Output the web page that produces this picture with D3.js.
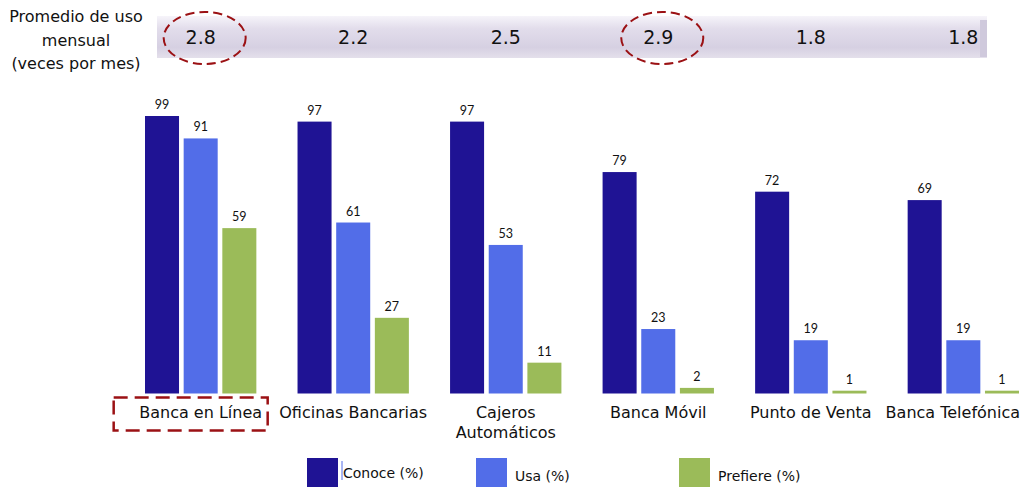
<!DOCTYPE html>
<html>
<head>
<meta charset="utf-8">
<script src="https://cdn.jsdelivr.net/npm/d3@7"></script>
<style>
  body { margin: 0; background: #fff; }
  text { font-family: "DejaVu Sans", Verdana, sans-serif; }
</style>
</head>
<body>
<svg width="1021" height="487"></svg>
<script>
// Data
const canales = ["Banca en Línea", "Oficinas Bancarias", "Cajeros\nAutomáticos", "Banca Móvil", "Punto de Venta", "Banca Telefónica"];
const series = ["Conoce (%)", "Usa (%)", "Prefiere (%)"];
const conoce = [99, 97, 97, 79, 72, 69];
const usa = [91, 61, 53, 23, 19, 19];
const prefiere = [59, 27, 11, 2, 1, 1];
const promedio = ["2.8", "2.2", "2.5", "2.9", "1.8", "1.8"];
const resaltados = [0, 3]; // columnas con el promedio encerrado
const colors = ["#1f1394", "#526de8", "#9bbb59"];

const svg = d3.select("svg");
const width = +svg.attr("width");

const valores = [conoce, usa, prefiere];
const data = canales.map((c, i) => ({ canal: c, vals: valores.map(v => v[i]) }));

const baseline = 393.5;
const yScale = d3.scaleLinear().domain([0, 100]).range([baseline, 113.2]);

const xScale = d3.scaleBand()
    .domain(canales)
    .range([145, 1019])
    .paddingInner(0.27)
    .paddingOuter(0);

const xSub = d3.scaleBand()
    .domain(series)
    .range([0, xScale.bandwidth()])
    .paddingInner(0.12);

const center = c => xScale(c) + xScale.bandwidth() / 2;

// banner on top
const defs = svg.append("defs");
const grad = defs.append("linearGradient")
    .attr("id", "banner").attr("x1", 0).attr("y1", 0).attr("x2", 0).attr("y2", 1);
grad.append("stop").attr("offset", "0%").attr("stop-color", "#f6f4fa");
grad.append("stop").attr("offset", "30%").attr("stop-color", "#e2ddeb");
grad.append("stop").attr("offset", "75%").attr("stop-color", "#d6d0e2");
grad.append("stop").attr("offset", "100%").attr("stop-color", "#e4e0eb");

svg.append("rect")
    .attr("x", 157).attr("y", 16)
    .attr("width", 830).attr("height", 42)
    .attr("fill", "url(#banner)");
svg.append("rect")
    .attr("x", 980).attr("y", 20)
    .attr("width", 7).attr("height", 37)
    .attr("fill", "#cfc9dc");

const titulo = svg.append("text")
    .attr("text-anchor", "middle")
    .attr("font-size", 16)
    .attr("fill", "#111");
["Promedio de uso", "mensual", "(veces por mes)"].forEach((t, i) => {
    titulo.append("tspan").attr("x", 76).attr("y", 22 + i * 23.5).text(t);
});

svg.append("g").selectAll("text")
    .data(promedio)
    .join("text")
    .attr("x", (d, i) => center(canales[i]))
    .attr("y", 44)
    .attr("text-anchor", "middle")
    .attr("font-size", 19)
    .attr("fill", "#111")
    .text(d => d);

svg.append("g").selectAll("ellipse")
    .data(resaltados)
    .join("ellipse")
    .attr("cx", i => center(canales[i]) + 4)
    .attr("cy", 38)
    .attr("rx", 41)
    .attr("ry", 26)
    .attr("fill", "none")
    .attr("stroke", "#9b1114")
    .attr("stroke-width", 2)
    .attr("stroke-dasharray", "9,5");

// bars
const groups = svg.append("g").selectAll("g")
    .data(data)
    .join("g")
    .attr("transform", d => `translate(${xScale(d.canal)},0)`);

groups.selectAll("rect")
    .data(d => d.vals.map((v, j) => ({ key: series[j], v, j })))
    .join("rect")
    .attr("x", d => xSub(d.key))
    .attr("y", d => yScale(d.v))
    .attr("width", xSub.bandwidth())
    .attr("height", d => baseline - yScale(d.v))
    .attr("fill", d => colors[d.j]);

groups.selectAll("text.val")
    .data(d => d.vals.map((v, j) => ({ key: series[j], v })))
    .join("text")
    .attr("class", "val")
    .attr("x", d => xSub(d.key) + xSub.bandwidth() / 2)
    .attr("y", d => yScale(d.v) - 7)
    .attr("text-anchor", "middle")
    .attr("font-size", 12.5)
    .style("font-family", "Lato, 'Open Sans', sans-serif")
    .attr("fill", "#111")
    .text(d => d.v);

// category labels (kept inside the right edge)
const xAxis = svg.append("g");
canales.forEach(c => {
    const t = xAxis.append("text")
        .attr("text-anchor", "middle")
        .attr("font-size", 16)
        .attr("fill", "#111");
    c.split("\n").forEach((line, k) => {
        t.append("tspan").attr("x", center(c)).attr("y", 418 + k * 20).text(line);
    });
    const bb = t.node().getBBox();
    const over = bb.x + bb.width - (width - 1);
    if (over > 0) t.selectAll("tspan").attr("x", center(c) - over);
});

// dashed box around first category
svg.append("rect")
    .attr("x", center(canales[0]) - 87).attr("y", 397.5)
    .attr("width", 154).attr("height", 33)
    .attr("fill", "none")
    .attr("stroke", "#9b1114")
    .attr("stroke-width", 2.5)
    .attr("stroke-dasharray", "14,7");

// legend
const legendX = [307, 476, 679];
const legend = svg.append("g").selectAll("g")
    .data(series)
    .join("g")
    .attr("transform", (d, i) => `translate(${legendX[i]},458)`);
legend.append("rect")
    .attr("width", 31).attr("height", 29)
    .attr("fill", (d, i) => colors[i]);
legend.append("text")
    .attr("x", (d, i) => i === 0 ? 36 : 39)
    .attr("y", (d, i) => i === 0 ? 20 : 23)
    .attr("font-size", 14)
    .attr("fill", "#111")
    .text(d => d);
svg.append("line")
    .attr("x1", 342).attr("x2", 342)
    .attr("y1", 461).attr("y2", 480)
    .attr("stroke", colors[1]).attr("stroke-width", 1);
</script>
</body>
</html>
